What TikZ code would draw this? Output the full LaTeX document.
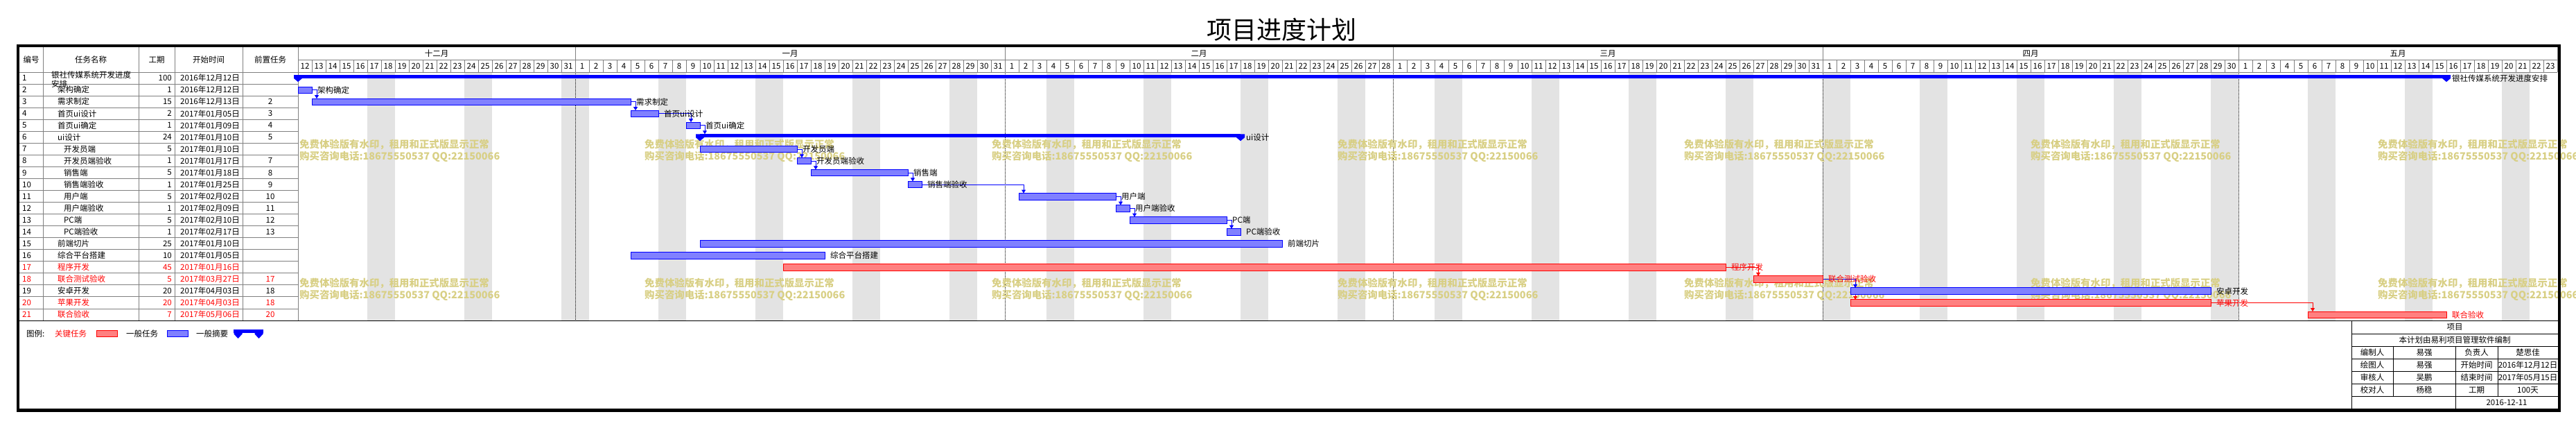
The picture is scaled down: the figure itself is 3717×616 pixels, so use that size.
\documentclass[tikz,border=0pt]{standalone}
\usepackage{fontspec}
\setmainfont{Noto Sans CJK SC}
\usepackage{xcolor}
\usepackage{tikz}
\usetikzlibrary{positioning,calc,arrows.meta}
\definecolor{GanttBlue}{RGB}{0,0,255}
\definecolor{GanttRed}{RGB}{255,0,0}
\definecolor{GridGray}{RGB}{128,128,128}
\definecolor{MarkYellow}{RGB}{216,207,132}
\pgfdeclarelayer{shade}
\pgfdeclarelayer{links}
\pgfsetlayers{shade,links,main}
\tikzset{
    taskbar/.style={rectangle, draw=GanttBlue, fill=GanttBlue!50, line width=1pt, minimum height=9.5pt, inner sep=0pt, outer sep=0pt, anchor=west},
    critbar/.style={taskbar, draw=GanttRed, fill=GanttRed!50},
    sumbar/.style={rectangle, fill=GanttBlue, minimum height=4.5pt, inner sep=0pt, outer sep=0pt, anchor=north west},
    cell/.style={inner sep=0pt, font=\fontsize{11.5}{12.5}\selectfont},
    barlabel/.style={cell, anchor=west},
    link/.style={draw=GanttBlue, line width=1pt, -{Triangle[width=6pt,length=5pt]}},
    critlink/.style={link, draw=GanttRed},
    gridline/.style={draw=GridGray, line width=1pt},
    monthline/.style={draw=black, line width=1pt, dash pattern=on 1pt off 1pt},
    weekend/.style={fill=black!11},
    watermark/.style={inner sep=0pt, anchor=west, text=MarkYellow, font=\fontsize{14.4}{17}\selectfont\bfseries}
}
\newcommand{\rowtop}[1]{(104+(#1-1)*17.05)}
\newcommand{\sumcap}[2][5]{\fill[GanttBlue] (#2) ++(-6,0) -- ++(12,0) -- ++(0,#1) -- ++(-6,#1) -- ++(-6,-#1) -- cycle;}
\begin{document}
\begin{tikzpicture}[x=1pt, y=-1pt]
    \useasboundingbox (0,0) rectangle (3717,616);
    % Tieu de
    \node[inner sep=0pt, font=\fontsize{36}{40}\selectfont] (title) at (1849,43) {项目进度计划};

    \begin{pgfonlayer}{shade}
        % Ngay nghi cuoi tuan
        \foreach \k in {0,...,22}
            \fill[weekend] ({430+20*(7*\k+5)},104) rectangle ++(40,358);
        % Ranh gioi thang
        \foreach \x in {830,1450,2010,2630,3230}
            \draw[monthline] (\x,104) -- (\x,462);
        % Chu chim
        \foreach \x [count=\n] in {432,930,1431,1930,2430,2930,3431}
            \foreach \y [count=\m] in {208,408} {
                \node[watermark] (wma\n\m) at (\x,\y) {免费体验版有水印，租用和正式版显示正常};
                \node[watermark] (wmb\n\m) at (\x,{\y+18}) {购买咨询电话:18675550537 QQ:22150066};
            }
    \end{pgfonlayer}

    % Luoi bang trai va tieu de ngay
    \foreach \x in {62.5,200,252,350,430}
        \draw[gridline] (\x,68) -- (\x,462);
    \foreach \k in {1,...,20}
        \draw[gridline] (28,{104+\k*17.05}) -- (430,{104+\k*17.05});
    \draw[gridline] (28,104) -- (3690,104);
    \draw[gridline] (430,86) -- (3690,86);
    \draw[gridline] (3690,68) -- (3690,104);
    \foreach \x in {830,1450,2010,2630,3230}
        \draw[gridline] (\x,68) -- (\x,86);
    \foreach \i in {1,...,162}
        \draw[gridline] ({430+20*\i},86) -- ({430+20*\i},104);

    % Dong tieu de
    \node[cell] (hnum) at (45,86) {编号};
    \node[cell] (hname) at (131,86) {任务名称};
    \node[cell] (hdur) at (226,86) {工期};
    \node[cell] (hdate) at (301,86) {开始时间};
    \node[cell] (hpre) at (390,86) {前置任务};
    \foreach \x/\mon [count=\n] in {630/十二月,1140/一月,1730/二月,2320/三月,2930/四月,3460/五月}
        \node[cell] (mon\n) at (\x,77.5) {\mon};
    \foreach \off/\a/\b in {-12/12/31,19/1/31,50/1/28,78/1/31,109/1/30,139/1/23}
        \foreach \d in {\a,...,\b} {
            \pgfmathtruncatemacro\i{\d+\off}
            \node[cell] (day\i) at ({440+20*\i},95) {\d};
        }

    % Noi dung bang
    \node[cell, anchor=west] (num1) at (32,{\rowtop{1}+8.5}) {1};
    \node[cell, anchor=west, align=left] (name1) at (74,{\rowtop{1}+10.5}) {银社传媒系统开发进度\\安排};
    \node[cell, anchor=east] (dur1) at (248,{\rowtop{1}+8.5}) {100};
    \node[cell, anchor=east] (date1) at (346,{\rowtop{1}+8.5}) {2016年12月12日};
    \foreach \r/\nm/\ind/\dur/\dt/\col in {
        2/架构确定/83/1/2016年12月12日/black,
        3/需求制定/83/15/2016年12月13日/black,
        4/首页ui设计/83/2/2017年01月05日/black,
        5/首页ui确定/83/1/2017年01月09日/black,
        6/ui设计/83/24/2017年01月10日/black,
        7/开发员端/92/5/2017年01月10日/black,
        8/开发员端验收/92/1/2017年01月17日/black,
        9/销售端/92/5/2017年01月18日/black,
        10/销售端验收/92/1/2017年01月25日/black,
        11/用户端/92/5/2017年02月02日/black,
        12/用户端验收/92/1/2017年02月09日/black,
        13/PC端/92/5/2017年02月10日/black,
        14/PC端验收/92/1/2017年02月17日/black,
        15/前端切片/83/25/2017年01月10日/black,
        16/综合平台搭建/83/10/2017年01月05日/black,
        17/程序开发/83/45/2017年01月16日/GanttRed,
        18/联合测试验收/83/5/2017年03月27日/GanttRed,
        19/安卓开发/83/20/2017年04月03日/black,
        20/苹果开发/83/20/2017年04月03日/GanttRed,
        21/联合验收/83/7/2017年05月06日/GanttRed}{
        \node[cell, anchor=west, text=\col] (num\r) at (32,{\rowtop{\r}+8.5}) {\r};
        \node[cell, anchor=west, text=\col] (name\r) at (\ind,{\rowtop{\r}+8.5}) {\nm};
        \node[cell, anchor=east, text=\col] (dur\r) at (248,{\rowtop{\r}+8.5}) {\dur};
        \node[cell, anchor=east, text=\col] (date\r) at (346,{\rowtop{\r}+8.5}) {\dt};
    }
    \foreach \r/\p/\col in {3/2/black,4/3/black,5/4/black,6/5/black,8/7/black,9/8/black,10/9/black,11/10/black,12/11/black,13/12/black,14/13/black,18/17/GanttRed,19/18/black,20/18/GanttRed,21/20/GanttRed}
        \node[cell, text=\col] (pre\r) at (390,{\rowtop{\r}+8.5}) {\p};

    % Thanh tong hop
    \foreach \r/\s/\e/\lbl in {1/0/155/银社传媒系统开发进度安排, 6/29/68/ui设计} {
        \pgfmathsetmacro\w{(\e-\s)*20}
        \node[sumbar, minimum width=\w pt] (t\r) at ({430+20*\s},{\rowtop{\r}+4}) {};
        \sumcap{t\r.north west}
        \sumcap{t\r.north east}
        \node[barlabel] (l\r) at ({430+20*\e+8},{\rowtop{\r}+9}) {\lbl};
    }
    % Thanh cong viec
    \foreach \r/\s/\e/\lbl/\sty/\col in {
        2/0/1/架构确定/taskbar/black,
        3/1/24/需求制定/taskbar/black,
        4/24/26/首页ui设计/taskbar/black,
        5/28/29/首页ui确定/taskbar/black,
        7/29/36/开发员端/taskbar/black,
        8/36/37/开发员端验收/taskbar/black,
        9/37/44/销售端/taskbar/black,
        10/44/45/销售端验收/taskbar/black,
        11/52/59/用户端/taskbar/black,
        12/59/60/用户端验收/taskbar/black,
        13/60/67/PC端/taskbar/black,
        14/67/68/PC端验收/taskbar/black,
        15/29/71/前端切片/taskbar/black,
        16/24/38/综合平台搭建/taskbar/black,
        17/35/103/程序开发/critbar/GanttRed,
        18/105/110/联合测试验收/critbar/GanttRed,
        19/112/138/安卓开发/taskbar/black,
        20/112/138/苹果开发/critbar/GanttRed,
        21/145/155/联合验收/critbar/GanttRed}{
        \pgfmathsetmacro\w{(\e-\s)*20}
        \node[\sty, minimum width=\w pt] (t\r) at ({430+20*\s},{\rowtop{\r}+8.75}) {};
        \node[barlabel, text=\col] (l\r) at ({430+20*\e+8},{\rowtop{\r}+8.75}) {\lbl};
    }

    % Lien ket
    \begin{pgfonlayer}{links}
        \foreach \a/\b in {17/18,18/20,20/21}
            \draw[critlink] (t\a.east) -| ([xshift=7pt]t\b.north west);
        \foreach \a/\b in {2/3,3/4,4/5,5/6,7/8,8/9,9/10,10/11,11/12,12/13,13/14,18/19}
            \draw[link] (t\a.east) -| ([xshift=7pt]t\b.north west);
    \end{pgfonlayer}

    % Chu thich
    \node[cell, anchor=west] (key) at (38,481) {图例:};
    \node[cell, anchor=west, text=GanttRed] (keycritlbl) at (79,481) {关键任务};
    \node[critbar, minimum width=30pt] (keycrit) at (139,481) {};
    \node[cell, anchor=west] (keytasklbl) at (182,481) {一般任务};
    \node[taskbar, minimum width=30pt] (keytask) at (241,481) {};
    \node[cell, anchor=west] (keysumlbl) at (283,481) {一般摘要};
    \node[sumbar, minimum width=43pt] (keysum) at (337,475) {};
    \sumcap[6.5]{[xshift=6.5pt]keysum.north west}
    \sumcap[6.5]{[xshift=-6.5pt]keysum.north east}

    % Bang thong tin
    \draw[line width=1pt] (28,462) -- (3691,462);
    \draw[line width=1pt] (3393,462) -- (3393,590);
    \foreach \y in {481.5,499.5,517.5,535.5,553.5,571.5}
        \draw[line width=1pt] (3393,\y) -- (3691,\y);
    \foreach \x in {3453,3604}
        \draw[line width=1pt] (\x,499.5) -- (\x,571.5);
    \draw[line width=1pt] (3543,499.5) -- (3543,590);
    \node[cell] (info1) at (3542,471.5) {项目};
    \node[cell] (info2) at (3542,490.5) {本计划由易利项目管理软件编制};
    \foreach \y/\a/\b/\c/\d [count=\n] in {
        508.5/编制人/易强/负责人/楚思佳,
        526.5/绘图人/易强/开始时间/2016年12月12日,
        544.5/审核人/吴鹏/结束时间/2017年05月15日,
        562.5/校对人/杨稳/工期/100天} {
        \node[cell] (ia\n) at (3423,\y) {\a};
        \node[cell] (ib\n) at (3498,\y) {\b};
        \node[cell] (ic\n) at (3573.5,\y) {\c};
        \node[cell] (id\n) at (3647.5,\y) {\d};
    }
    \node[cell] (infodate) at (3617,580.5) {2016-12-11};

    % Khung ngoai
    \draw[line width=4.5pt] (26,66) rectangle (3693,591.5);
\end{tikzpicture}
\end{document}
